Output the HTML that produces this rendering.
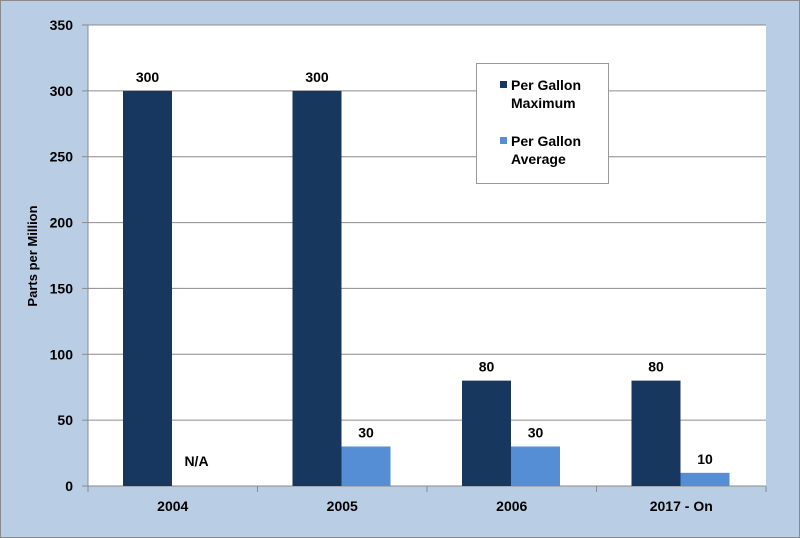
<!DOCTYPE html>
<html><head><meta charset="utf-8"><style>
html,body{margin:0;padding:0;background:#b9cde5;}
svg{display:block;font-family:"Liberation Sans",Arial,sans-serif;font-weight:bold;}
</style></head><body>
<svg width="800" height="538" viewBox="0 0 800 538">
<rect x="0.5" y="0.5" width="799" height="537" fill="#b9cde5" stroke="#8a8a8a"/>
<rect x="88" y="25" width="678" height="461" fill="#fff"/>
<g id="grid"></g><g id="bars"></g><g id="labels"></g>
<text transform="translate(37,256) rotate(-90)" text-anchor="middle" font-size="13" fill="#000">Parts per Million</text>
<g>
<rect x="476.5" y="63.5" width="132" height="120" fill="#fff" stroke="#999"/>
<rect x="500" y="81" width="7" height="7" fill="#17375e"/>
<text x="511" y="90" font-size="14">Per Gallon<tspan x="511" dy="18">Maximum</tspan></text>
<rect x="500" y="137" width="7" height="7" fill="#558ed5"/>
<text x="511" y="146" font-size="14">Per Gallon<tspan x="511" dy="18">Average</tspan></text>
</g>
</svg>
<script>
const categories=["2004","2005","2006","2017 - On"];
const maxValues=[300,300,80,80];
const avgValues=[null,30,30,10];
const avgLabels=["N/A","30","30","10"];
const yTicks=[0,50,100,150,200,250,300,350];
const NS="http://www.w3.org/2000/svg";
const L=88,R=766,T=25,B=486,YMAX=350;
const y=v=>B-(v/YMAX)*(B-T);
const bw=(R-L)/categories.length;
const x=i=>L+i*bw;
function mk(tag,attrs,parent,txt){const e=document.createElementNS(NS,tag);for(const k in attrs)e.setAttribute(k,attrs[k]);if(txt!=null)e.textContent=txt;parent.appendChild(e);return e;}
const grid=document.getElementById('grid'),bars=document.getElementById('bars'),labels=document.getElementById('labels');
yTicks.forEach(t=>{
 if(t>0){const g=mk('line',{x1:L,x2:R,y1:y(t),y2:y(t),stroke:'#8c8c8c','stroke-width':1},grid);
 
 }
 mk('line',{x1:L-6,x2:L,y1:y(t),y2:y(t),stroke:'#8c8c8c'},grid);
 const tl=mk('text',{x:L-15,y:y(t)+5,'text-anchor':'end','font-size':14},labels,t);
 
 
});
mk('line',{x1:L,x2:L,y1:T,y2:B,stroke:'#8c8c8c'},grid);
mk('line',{x1:L,x2:R,y1:B,y2:B,stroke:'#8c8c8c'},grid);
for(let i=0;i<=categories.length;i++)mk('line',{x1:x(i),x2:x(i),y1:B,y2:B+6,stroke:'#8c8c8c'},grid);
const barW=49,off=35;
categories.forEach((c,i)=>{
 const x0=x(i)+off;
 const b=mk('rect',{x:x0,y:y(maxValues[i]),width:barW,height:B-y(maxValues[i]),fill:'#17375e'},bars);
 
 
 const l1=mk('text',{x:x0+barW/2,y:y(maxValues[i])-9,'text-anchor':'middle','font-size':14},labels,maxValues[i]);
 
 
 const v=avgValues[i]||0;
 if(avgValues[i]!=null){const b2=mk('rect',{x:x0+barW,y:y(v),width:barW,height:B-y(v),fill:'#558ed5'},bars);
 
 }
 const l2=mk('text',{x:x0+barW*1.5,y:y(v)-9,'text-anchor':'middle','font-size':14},labels,avgLabels[i]);
 if(avgValues[i]==null)l2.setAttribute('y',y(0)-20);
 
 
 const cl=mk('text',{x:x(i)+bw/2,y:B+25,'text-anchor':'middle','font-size':14},labels,c);
 
 
});
</script>
</body></html>
